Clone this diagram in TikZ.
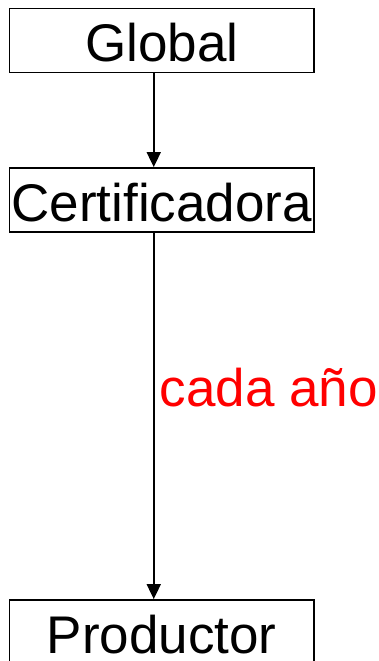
\documentclass[tikz,border=0pt]{standalone}
\usepackage{fontspec}
\setmainfont{Liberation Sans}
\usetikzlibrary{arrows.meta}
\begin{document}
\begin{tikzpicture}[x=1pt,y=-1pt,
  box/.style={draw=black,line width=1.8pt,minimum width=304.5pt,minimum height=64pt,inner sep=0pt,
    text height=43pt,text depth=0pt,font=\fontsize{53}{60}\selectfont},
  conn/.style={line width=1.8pt,-{Triangle[length=15pt,width=14pt]}},
  lbl/.style={text=red,inner sep=0pt,font=\fontsize{53}{60}\selectfont}]
\useasboundingbox (0,0) rectangle (379,661);
\node[box] (g) at (161.75,40.5) {Global};
\node[box] (c) at (161.75,200) {Certificadora};
\node[box] (p) at (161.75,632) {Productor};
\draw[conn] ([xshift=-8pt]g.south) -- ([xshift=-8pt]c.north);
\draw[conn] ([xshift=-8pt]c.south) -- node[lbl,pos=0.475,anchor=base west,xshift=5pt] (t) {cada año} ([xshift=-8pt]p.north);
\end{tikzpicture}
\end{document}
